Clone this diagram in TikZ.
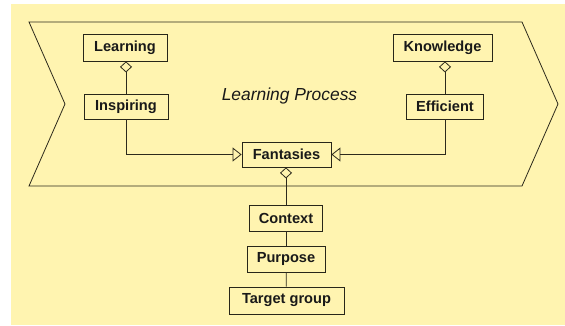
\documentclass[tikz,border=0pt]{standalone}
\usepackage{fontspec}
\setmainfont{Liberation Sans}
\usetikzlibrary{arrows.meta}
\definecolor{bgyellow}{RGB}{255,244,176}
\definecolor{lineclr}{RGB}{45,42,28}
\definecolor{boxclr}{RGB}{40,38,25}
\tikzset{
  classbox/.style={draw=boxclr, line width=0.85pt, minimum height=26pt, inner sep=0pt, font=\bfseries\fontsize{14.6}{16}\selectfont, text=black!90},
  conn/.style={draw=lineclr, line width=0.8pt},
  aggr/.style={conn, {Diamond[open, length=11pt, width=12pt, line width=0.8pt]}-},
  gen/.style={conn, -{Triangle[open, length=9pt, width=14pt, line width=0.8pt]}},
}
\begin{document}
\begin{tikzpicture}[x=1pt, y=-1pt]
\useasboundingbox (0,0) rectangle (565,325);
\fill[bgyellow] (11,4) rectangle (565,325);
% process chevron
\draw[lineclr, line width=0.8pt] (29,22) -- (522,22) -- (558,104) -- (522,186) -- (29,186) -- (65,104) -- cycle;
\node[font=\itshape\fontsize{17.4}{20}\selectfont, text=black!90] (proc) at (289.5,96) {Learning Process};
% nodes
\node[classbox, minimum width=84pt, minimum height=27pt] (learning) at (125,47.5) {Learning};
\node[classbox, minimum width=84pt, minimum height=25pt] (inspiring) at (126,106.5) {Inspiring};
\node[classbox, minimum width=99pt, minimum height=27pt] (knowledge) at (442.5,47.5) {Knowledge};
\node[classbox, minimum width=77pt, minimum height=25pt] (efficient) at (445,106.5) {Efficient};
\node[classbox, minimum width=89pt, minimum height=25pt] (fantasies) at (286.5,154.5) {Fantasies};
\node[classbox, minimum width=73pt, minimum height=26pt] (context) at (286,218) {Context};
\node[classbox, minimum width=78pt, minimum height=26pt] (purpose) at (286,259) {Purpose};
\node[classbox, minimum width=115pt, minimum height=27pt] (target) at (286.5,300.5) {Target group};
% connectors
\draw[aggr] (learning.south -| inspiring.north) -- (inspiring.north);
\draw[aggr] (knowledge.south -| efficient.north) -- (efficient.north);
\draw[aggr] (fantasies.south -| context.north) -- (context.north);
\draw[conn] (context) -- (purpose);
\draw[conn] (purpose) -- (target);
\draw[gen] (inspiring.south) |- (fantasies.west);
\draw[gen] (efficient.south) |- (fantasies.east);
\end{tikzpicture}
\end{document}
